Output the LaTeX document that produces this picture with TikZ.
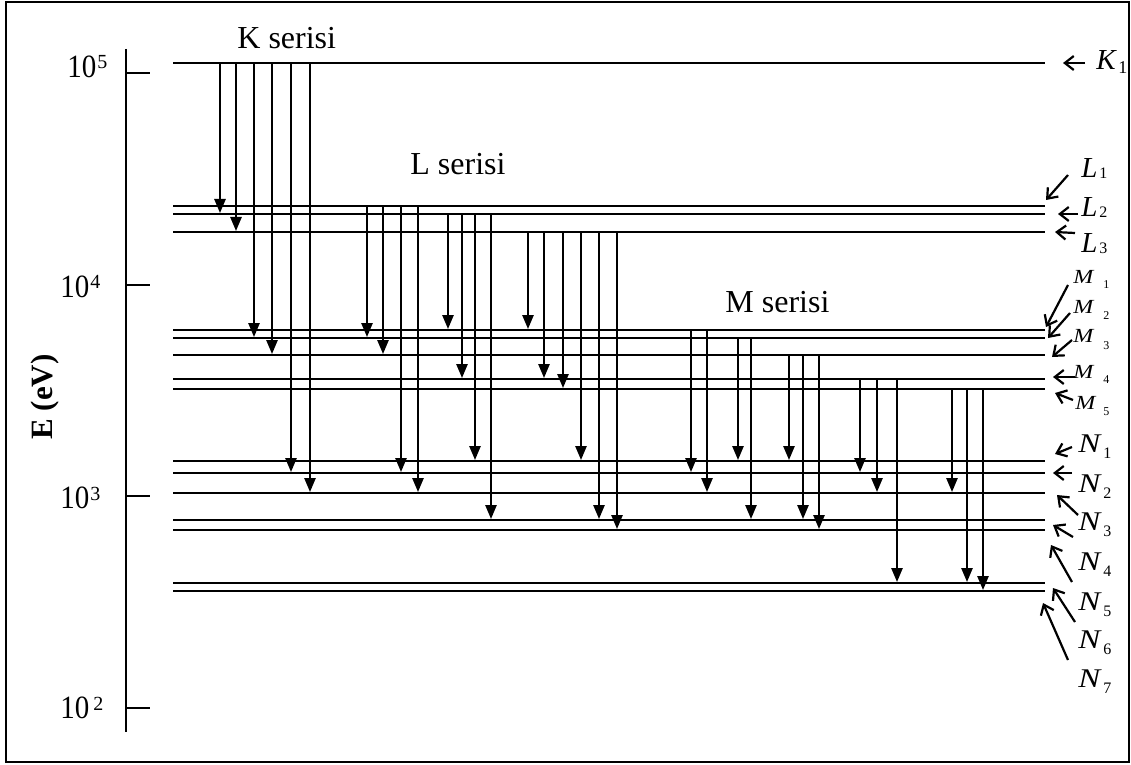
\documentclass[tikz,border=0pt]{standalone}
\usepackage{fontspec}
\setmainfont{Liberation Serif}
\usetikzlibrary{arrows.meta}
\begin{document}
\begin{tikzpicture}[x=0.5pt,y=-0.5pt,
  lvl/.style={line width=1.15pt},
  tr/.style={line width=1.05pt,-{Triangle[length=7pt,width=5.6pt]},shorten >=0.5pt},
  ptr/.style={line width=1.1pt,-{Straight Barb[length=4.5pt,width=7pt]}},
  ser/.style={anchor=base west,inner sep=0pt,font=\fontsize{16}{18}\selectfont},
  axnum/.style={anchor=base west,inner sep=0pt,yscale=1.12,font=\fontsize{14.5}{16}\selectfont},
  axexp/.style={anchor=north west,inner sep=0pt,font=\fontsize{10}{10}\selectfont},
  biglab/.style={anchor=base west,inner sep=0pt,font=\fontsize{14.5}{15}\selectfont\itshape},
  mlab/.style={anchor=base west,inner sep=0pt,xscale=1.2,font=\fontsize{10}{11}\selectfont\itshape},
  nlab/.style={anchor=base west,inner sep=0pt,xscale=1.22,font=\fontsize{13.5}{14}\selectfont\itshape},
  subk/.style={anchor=base west,inner sep=0pt,font=\fontsize{9}{10}\selectfont},
  subl/.style={anchor=base west,inner sep=0pt,font=\fontsize{8}{9}\selectfont},
  subm/.style={anchor=base west,inner sep=0pt,font=\fontsize{6}{7}\selectfont},
  subn/.style={anchor=base west,inner sep=0pt,font=\fontsize{8}{9}\selectfont}]
\useasboundingbox (0,0) rectangle (1131,765);
\draw[line width=1.1pt] (6,2) rectangle (1129,762);

% energy axis
\coordinate (axtop) at (126,49);
\coordinate (axbot) at (126,732);
\draw[line width=1.1pt] (axtop) -- (axbot);
\foreach \n/\y in {t5/73,t4/285,t3/496,t2/708}{
  \coordinate (\n) at (126,\y);
  \coordinate (\n-e) at (150,\y);
  \draw[line width=1.1pt] (\n) -- (\n-e);
}
\node[axnum] (n5) at (67,78) {10};
\node[axexp] (e5) at (97,55) {5};
\node[axnum] (n4) at (60,297) {10};
\node[axexp] (e4) at (90,275) {4};
\node[axnum] (n3) at (60,508) {10};
\node[axexp] (e3) at (90,487) {3};
\node[axnum] (n2) at (60,718) {10};
\node[axexp] (e2) at (93,697) {2};
\node[rotate=90,inner sep=0pt,font=\bfseries\fontsize{15.5}{16}\selectfont] (elab) at (45,397) {E (eV)};

% levels
\foreach \n/\y in {K1/63,L1/206,L2/214,L3/232,M1/330,M2/338,M3/355,M4/379,M5/389,
                   N1/461,N2/473,N3/493,N4/520,N5/530,N6/583,N7/591}{
  \coordinate (\n) at (173,\y);
  \coordinate (\n-e) at (1045,\y);
  \draw[lvl] (\n) -- (\n-e);
}

% series titles
\node[ser] (kser) at (237,49) {K serisi};
\node[ser] (lser) at (410,175) {L serisi};
\node[ser] (mser) at (725,313) {M serisi};

% transitions
\foreach \x/\a/\b in {220/K1/L2,236/K1/L3,254/K1/M2,272/K1/M3,291/K1/N2,310/K1/N3,
   367/L1/M2,383/L1/M3,401/L1/N2,418/L1/N3,
   448/L2/M1,462/L2/M4,475/L2/N1,491/L2/N4,
   528/L3/M1,544/L3/M4,563/L3/M5,581/L3/N1,599/L3/N4,617/L3/N5,
   691/M1/N2,707/M1/N3,
   738/M2/N1,751/M2/N4,
   789/M3/N1,803/M3/N4,819/M3/N5,
   860/M4/N2,877/M4/N3,897/M4/N6,
   952/M5/N3,967/M5/N6,983/M5/N7}{
  \draw[tr] (\x,0 |- \a) -- (\x,0 |- \b);
}

% level labels
\node[biglab] (lK) at (1096,70) {K};
\node[subk] (sK) at (1118,74) {1};
\foreach \s/\y in {1/177,2/217,3/253}{
  \node[biglab] (lL\s) at (1081,\y) {L};
  \node[subl] (sL\s) at (1099,\y+1) {\s};
}
\foreach \s/\x/\y/\sy in {1/1073/284/288,2/1073/314/320,3/1073/343/350,4/1073/378/383,5/1075/409/415}{
  \node[mlab] (lM\s) at (\x,\y) {M};
  \node[subm] (sM\s) at (1103,\sy) {\s};
}
\foreach \s/\y in {1/452,2/492,3/530,4/570,5/610,6/648,7/687}{
  \node[nlab] (lN\s) at (1078,\y) {N};
  \node[subn] (sN\s) at (1103,\y+6) {\s};
}

% pointer arrows
\foreach \xa/\ya/\xb/\yb in {1085/63/1063/63,
   1068/175/1046/200,1078/214/1058/214,1075/233/1055/232,
   1068/285/1046/327,1070/313/1048/338,1072/340/1052/357,1075/377/1053/377,1073/400/1055/393,
   1072/447/1055/454,1072/473/1053/473,1078/515/1057/495,1073/537/1053/525,
   1072/582/1051/545,1075/622/1053/588,1068/660/1043/603}{
  \draw[ptr] (\xa,\ya) -- (\xb,\yb);
}
\end{tikzpicture}
\end{document}
